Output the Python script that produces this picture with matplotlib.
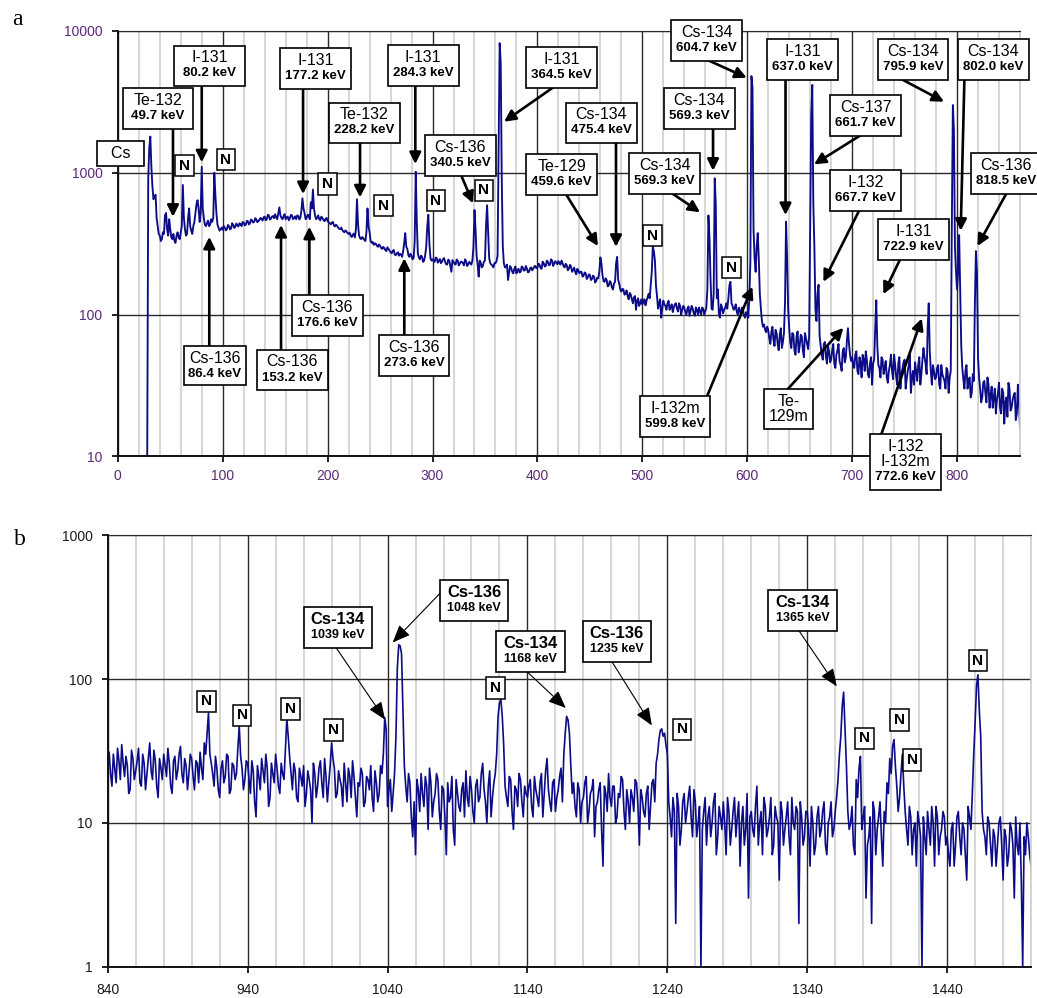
import numpy as np
import matplotlib
matplotlib.use("Agg")
import matplotlib.pyplot as plt
from matplotlib.ticker import FixedLocator, FuncFormatter, NullLocator
from matplotlib.offsetbox import AnnotationBbox, TextArea, VPacker, DrawingArea

plt.rcParams['font.family'] = ['Liberation Sans', 'DejaVu Sans']

# ---- spectrum a : counts per 1 keV channel ----
# even channels
counts_a_028 = [8, 1500, 1100, 650, 700, 420, 360, 340, 370, 520, 360, 400,
                340, 330, 360, 350, 380, 820, 400, 370, 560, 390, 420, 520,
                640, 450, 1100, 480, 420, 460, 430, 450, 1000, 520, 410, 400]
counts_a_100 = [395, 410, 400, 420, 405, 430, 415, 425, 440, 420,
                445, 430, 455, 440, 460, 450, 470, 455, 480, 460,
                490, 470, 500, 475, 495, 510, 470, 570, 480, 495,
                470, 490, 475, 500, 480, 470, 495, 480, 660, 520,
                480, 500, 620, 760, 500, 480, 470, 490, 465, 470]
counts_a_200 = [455, 440, 445, 425, 430, 410, 400, 395, 380, 385,
                370, 360, 365, 350, 650, 360, 340, 345, 330, 560,
                380, 320, 310, 315, 300, 305, 290, 295, 280, 290,
                275, 280, 265, 270, 260, 265, 280, 375, 290, 255,
                260, 250, 1015, 270, 245, 255, 240, 300, 505, 250]
counts_a_300 = [245, 235, 250, 240, 230, 245, 235, 225, 240, 200,
                235, 225, 240, 228, 235, 222, 238, 225, 230, 240,
                546, 260, 185, 232, 220, 240, 590, 250, 225, 215,
                230, 260, 8200, 900, 230, 215, 175, 220, 200, 210,
                195, 210, 200, 215, 205, 210, 200, 215, 210, 220]
counts_a_400 = [215, 225, 210, 230, 220, 235, 225, 240, 228, 232,
                238, 225, 230, 215, 222, 210, 218, 205, 200, 210,
                195, 200, 188, 195, 182, 190, 178, 185, 172, 180,
                253, 190, 170, 175, 160, 168, 150, 170, 255, 165,
                145, 150, 140, 135, 142, 128, 132, 108, 130, 120]
counts_a_500 = [118, 128, 125, 140, 160, 300, 240, 135, 120, 95,
                125, 115, 120, 108, 118, 112, 120, 105, 115, 108,
                112, 100, 114, 106, 110, 98, 108, 112, 100, 110,
                105, 150, 350, 110, 140, 600, 150, 95, 112, 108,
                120, 130, 170, 115, 110, 104, 112, 100, 108, 95]
counts_a_600 = [100, 130, 4800, 400, 200, 375, 140, 90, 85, 75,
                78, 62, 82, 60, 74, 56, 80, 64, 120, 250,
                80, 58, 72, 52, 76, 60, 70, 50, 68, 57,
                400, 4160, 300, 90, 162, 60, 48, 64, 45, 55,
                48, 62, 42, 56, 47, 40, 58, 50, 80, 52]
counts_a_700 = [50, 42, 55, 38, 46, 52, 40, 48, 36, 50,
                45, 80, 60, 42, 50, 38, 47, 33, 44, 40,
                52, 36, 45, 30, 42, 48, 35, 44, 28, 40,
                46, 34, 50, 38, 58, 45, 80, 55, 32, 40,
                36, 44, 30, 38, 34, 42, 28, 40, 3000, 300]
counts_a_800 = [150, 363, 60, 35, 40, 30, 36, 28, 34, 280,
                50, 30, 26, 34, 24, 32, 27, 22, 30, 25,
                33, 20, 28, 24, 19, 30, 22, 27, 18, 32,
                16]
# odd channels
counts_a_029 = [900, 1800, 800, 680, 480, 370, 330, 380, 500, 400,
                470, 350, 370, 320, 380, 340, 420, 480, 360, 480,
                420, 370, 450, 600, 560, 520, 560, 430, 440, 420,
                470, 480, 700, 430, 390, 410]
counts_a_101 = [420, 392, 428, 398, 440, 408, 438, 418, 432, 450,
                425, 458, 432, 468, 445, 478, 448, 465, 472, 485,
                462, 505, 468, 490, 478, 485, 520, 500, 470, 510,
                485, 462, 505, 470, 492, 500, 468, 540, 560, 470,
                505, 470, 560, 560, 470, 500, 462, 480, 455, 480]
counts_a_201 = [448, 432, 450, 418, 422, 402, 410, 385, 392, 375,
                378, 352, 372, 400, 430, 345, 352, 335, 380, 420,
                330, 325, 318, 305, 312, 295, 300, 285, 298, 282,
                270, 285, 262, 275, 268, 255, 320, 300, 262, 268,
                245, 330, 450, 252, 260, 235, 262, 420, 320, 240]
counts_a_301 = [238, 252, 232, 246, 236, 250, 226, 244, 218, 242,
                228, 244, 222, 236, 230, 245, 220, 235, 225, 300,
                400, 225, 240, 215, 236, 420, 380, 230, 222, 230,
                238, 1500, 6000, 300, 215, 225, 198, 212, 195, 218,
                205, 198, 218, 204, 220, 198, 212, 205, 218, 212]
counts_a_401 = [228, 212, 236, 218, 240, 222, 245, 220, 238, 226,
                230, 240, 218, 228, 205, 224, 200, 214, 192, 205,
                200, 185, 198, 178, 192, 175, 188, 168, 182, 200,
                230, 172, 180, 158, 172, 155, 165, 230, 175, 150,
                152, 138, 148, 128, 138, 120, 135, 125, 115, 128]
counts_a_501 = [122, 116, 132, 130, 200, 280, 160, 110, 128, 110,
                118, 108, 125, 112, 104, 118, 110, 120, 100, 115,
                104, 110, 98, 115, 102, 112, 100, 105, 112, 100,
                112, 500, 180, 108, 913, 130, 100, 118, 102, 112,
                110, 160, 120, 108, 118, 100, 106, 112, 98, 104]
counts_a_601 = [95, 240, 4000, 250, 300, 250, 110, 82, 78, 82,
                68, 75, 66, 78, 62, 72, 58, 74, 451, 110,
                64, 74, 56, 70, 54, 72, 56, 74, 62, 70,
                2500, 600, 110, 140, 70, 52, 62, 50, 60, 46,
                56, 45, 52, 62, 44, 55, 46, 65, 62, 47]
counts_a_701 = [44, 52, 40, 50, 36, 48, 55, 38, 45, 32,
                48, 126, 44, 36, 48, 42, 36, 40, 52, 35,
                44, 32, 50, 38, 46, 30, 40, 52, 36, 32,
                40, 44, 32, 48, 50, 38, 120, 40, 44, 35,
                42, 32, 44, 36, 30, 40, 36, 400, 2000, 200]
counts_a_801 = [200, 150, 42, 30, 44, 34, 26, 38, 120, 200,
                36, 24, 33, 28, 36, 22, 31, 26, 20, 28,
                22, 30, 17, 26, 33, 21, 25, 28, 20, 24]

# ---- spectrum b ----
counts_b_840 = [26, 22, 30, 19, 27, 35, 21, 25, 17, 28,
                23, 33, 18, 26, 22, 36, 20, 27, 15, 24,
                30, 21, 26, 16, 29, 23, 34, 19, 25, 22,
                28, 17, 26, 31, 20, 30, 58, 26, 18, 24,
                15, 27, 21, 29, 17, 25, 22, 47, 24, 20]
counts_b_940 = [26, 16, 23, 11, 21, 28, 19, 24, 15, 22,
                30, 18, 26, 20, 53, 29, 17, 23, 14, 21,
                25, 16, 20, 10, 22, 18, 27, 15, 21, 19,
                36, 24, 16, 20, 13, 19, 24, 15, 21, 11,
                18, 22, 14, 20, 25, 12, 19, 16, 22, 54]
counts_b_1040 = [13, 20, 16, 40, 173, 150, 25, 14, 19, 8,
                 6, 17, 22, 13, 18, 24, 11, 16, 20, 9,
                 17, 6, 14, 21, 7, 16, 12, 19, 23, 13,
                 17, 10, 20, 15, 26, 14, 18, 11, 19, 30,
                 68, 55, 18, 13, 20, 9, 17, 22, 14, 18]
counts_b_1140 = [15, 20, 11, 17, 13, 22, 16, 28, 14, 19,
                 12, 17, 24, 30, 55, 42, 16, 13, 19, 10,
                 15, 21, 12, 17, 8, 14, 19, 5, 16, 22,
                 13, 18, 11, 15, 20, 9, 14, 17, 12, 19,
                 7, 15, 11, 18, 13, 20, 26, 38, 45, 42]
counts_b_1240 = [30, 11, 15, 2, 13, 9, 16, 12, 18, 8,
                 14, 10, 1, 12, 7, 13, 10, 16, 8, 11,
                 14, 6, 12, 9, 15, 11, 5, 13, 9, 3,
                 12, 8, 18, 10, 6, 13, 9, 15, 7, 11,
                 4, 12, 9, 14, 6, 10, 13, 2, 11, 8]
counts_b_1340 = [12, 5, 10, 7, 13, 9, 14, 6, 11, 8,
                 12, 20, 40, 81, 25, 9, 13, 6, 15, 29,
                 11, 3, 8, 2, 12, 9, 14, 5, 10, 16,
                 22, 38, 18, 15, 30, 12, 7, 11, 9, 5,
                 10, 1, 8, 12, 7, 10, 13, 6, 9, 11]
counts_b_1440 = [8, 5, 10, 7, 12, 6, 9, 4, 11, 16,
                 50, 107, 40, 9, 6, 10, 5, 8, 7, 11,
                 4, 8, 6, 9, 3, 7, 10, 1, 6, 8,
                 5]
counts_b_841 = [31, 18, 24, 33, 20, 26, 29, 16, 32, 20,
                27, 19, 30, 17, 28, 23, 32, 18, 28, 20,
                25, 33, 18, 27, 20, 30, 22, 28, 17, 30,
                21, 27, 19, 24, 36, 42, 30, 22, 29, 17,
                24, 19, 30, 16, 26, 20, 33, 29, 17, 27]
counts_b_941 = [20, 27, 14, 25, 17, 23, 30, 13, 26, 19,
                24, 16, 22, 33, 40, 22, 26, 15, 24, 18,
                13, 23, 17, 26, 15, 24, 19, 28, 14, 25,
                28, 15, 23, 18, 26, 14, 21, 27, 15, 19,
                24, 13, 21, 17, 15, 23, 14, 25, 30, 45]
counts_b_1041 = [17, 12, 22, 120, 170, 60, 18, 22, 11, 14,
                 20, 12, 16, 21, 9, 19, 14, 22, 12, 18,
                 11, 19, 15, 9, 20, 13, 17, 11, 15, 21,
                 12, 18, 14, 22, 17, 10, 23, 15, 22, 55,
                 72, 35, 15, 21, 12, 18, 13, 20, 11, 16]
counts_b_1141 = [18, 13, 21, 15, 19, 11, 23, 17, 12, 20,
                 15, 21, 14, 42, 52, 25, 19, 11, 17, 14,
                 19, 10, 16, 20, 13, 17, 9, 18, 12, 15,
                 18, 10, 16, 21, 12, 17, 10, 15, 20, 13,
                 17, 12, 16, 9, 19, 14, 30, 44, 40, 35]
counts_b_1241 = [14, 8, 12, 16, 7, 14, 10, 15, 11, 17,
                 8, 13, 9, 15, 11, 8, 14, 6, 13, 9,
                 10, 15, 7, 12, 8, 14, 10, 7, 16, 11,
                 9, 13, 7, 12, 15, 8, 11, 6, 13, 10,
                 14, 7, 11, 8, 15, 9, 12, 14, 7, 12]
counts_b_1341 = [9, 13, 6, 11, 8, 12, 7, 10, 14, 9,
                 15, 30, 65, 45, 12, 10, 7, 20, 24, 9,
                 13, 7, 11, 14, 6, 11, 8, 12, 19, 28,
                 34, 25, 12, 22, 18, 9, 13, 6, 10, 12,
                 8, 11, 6, 9, 13, 5, 11, 8, 12, 7]
counts_b_1441 = [6, 9, 5, 11, 8, 10, 6, 13, 9, 30,
                 90, 60, 12, 8, 11, 7, 9, 5, 10, 7,
                 9, 5, 10, 7, 11, 6, 4, 8, 10, 6]

# ---- labels: (name, energy, box x, box y, arrow (x0, y0, x1, y1)) ----
labels_a = [
    ("  Cs  ", "", 2.6, 1366, None),
    ("Te-132", "49.7 keV", 38.3, 2838, (52.6, 2069, 52.6, 489)),
    ("I-131", "80.2 keV", 87.6, 5662, (80.0, 4140, 80.0, 1184)),
    ("I-131", "177.2 keV", 188.6, 5437, (176.6, 3981, 176.6, 707)),
    ("Te-132", "228.2 keV", 235.0, 2243, (230.9, 1629, 230.9, 670)),
    ("I-131", "284.3 keV", 291.1, 5680, (283.6, 4093, 283.6, 1152)),
    ("Cs-136", "340.5 keV", 326.4, 1327, (327.2, 964, 338.6, 608)),
    ("I-131", "364.5 keV", 423.2, 5530, (415.2, 4005, 368.2, 2290)),
    ("Cs-134", "475.4 keV", 460.8, 2243, (474.9, 1629, 474.9, 300)),
    ("Te-129", "459.6 keV", 423.2, 974, (427.3, 704, 457.7, 304)),
    ("Cs-134", "569.3 keV", 554.2, 2830, (567.4, 2057, 567.4, 1033)),
    ("Cs-134", "569.3 keV", 521.3, 984, (528.3, 716, 555.0, 526)),
    ("Cs-134", "604.7 keV", 561.4, 8590, (562.0, 6243, 599.5, 4680)),
    ("I-131", "637.0 keV", 652.5, 6310, (636.5, 4560, 636.5, 503)),
    ("Cs-137", "661.7 keV", 713.0, 2546, (706.9, 1815, 663.7, 1146)),
    ("I-132", "667.7 keV", 713.0, 751, (706.9, 545, 672.6, 170)),
    ("I-131", "722.9 keV", 758.5, 337, (745.7, 245, 729.7, 139)),
    ("Cs-134", "795.9 keV", 758.0, 6310, (747.3, 4560, 787.6, 3170)),
    ("Cs-134", "802.0 keV", 834.6, 6310, (807.0, 4560, 803.5, 390)),
    ("Cs-136", "818.5 keV", 846.7, 984, (847.4, 722, 819.4, 304)),
    ("Cs-136", "86.4 keV", 92.7, 43.6, (87.2, 60.1, 87.2, 353)),
    ("Cs-136", "153.2 keV", 166.4, 40.6, (155.6, 56.7, 155.6, 428)),
    ("Cs-136", "176.6 keV", 199.6, 98.7, (182.6, 136.4, 182.6, 416)),
    ("Cs-136", "273.6 keV", 282.4, 51.7, (273.1, 71.2, 273.1, 249)),
    ("I-132m", "599.8 keV", 531.2, 19.1, (561.4, 26.2, 604.9, 157)),
    ("Te-\n129m", "", 639.2, 21.5, (639.2, 30.1, 691.6, 80.5)),
    ("I-132\nI-132m", "772.6 keV", 750.9, 9.1, (729.2, 15.3, 766.4, 93.8)),
]
labels_b = [
    ("Cs-136", "1048 keV", 1102.0, 352.5, (1078.7, 406, 1043.7, 179.6)),
    ("Cs-134", "1039 keV", 1004.5, 228, (1001.3, 176, 1038.2, 52.2)),
    ("Cs-134", "1168 keV", 1142.2, 155.5, (1139.5, 113, 1167.4, 62.9)),
    ("Cs-136", "1235 keV", 1203.8, 181.6, (1200.3, 132.5, 1228.9, 47.6)),
    ("Cs-134", "1365 keV", 1336.6, 300.5, (1333.6, 220, 1361.1, 88.9)),
]
# natural background lines marked "N"
n_marks_a = [(63.5, 1124), (103.1, 1239), (199.6, 835), (253.3, 587),
             (303.2, 636), (348.9, 751), (509.4, 360), (585.0, 214)]
n_marks_b = [(910.8, 69.9), (936.0, 55.8), (970.7, 62), (1001.5, 44.3),
             (1117.2, 86.3), (1250.5, 44.7), (1381.1, 38.6), (1405.8, 51.7),
             (1415.0, 27.4), (1462.0, 134.4)]

LINE = '#0c0c88'
GRID_MAJ = '#2a2a2a'
GRID_MIN = '#cfcfcf'


def spectrum(chunks):
    xs, ys = [], []
    for start, vals in chunks:
        xs.append(start + 2 * np.arange(len(vals)))
        ys.append(np.asarray(vals, dtype=float))
    x = np.concatenate(xs)
    y = np.concatenate(ys)
    order = np.argsort(x)
    return x[order], y[order]


def style_axes(ax, xlim, ylim, major, minor, tick_color, xpad):
    ax.set_yscale('log')
    ax.set_xlim(xlim)
    ax.set_ylim(ylim)
    ax.xaxis.set_major_locator(FixedLocator(major))
    ax.xaxis.set_minor_locator(FixedLocator(minor))
    ax.yaxis.set_minor_locator(NullLocator())
    fmt = FuncFormatter(lambda v, p: f'{v:.0f}')
    ax.xaxis.set_major_formatter(fmt)
    ax.yaxis.set_major_formatter(fmt)
    ax.grid(which='minor', axis='x', color=GRID_MIN, lw=1.2)
    ax.grid(which='major', axis='both', color=GRID_MAJ, lw=1.0)
    ax.set_axisbelow(True)
    ax.spines['top'].set_color(GRID_MAJ)
    ax.spines['right'].set_color(GRID_MIN)
    ax.spines['right'].set_linewidth(1.2)
    for s in ('left', 'bottom'):
        ax.spines[s].set_linewidth(1.4)
        ax.spines[s].set_color('#111111')
    ax.tick_params(which='major', direction='out', length=4, width=1.3,
                   labelsize=10, labelcolor=tick_color, color='#111111')
    ax.tick_params(axis='y', pad=7)
    ax.tick_params(axis='x', pad=xpad)
    ax.tick_params(which='minor', length=0)


def add_box(ax, name, energy, x, y, name_kw, energy_kw, min_w=44):
    kids = [TextArea(name, textprops=dict(multialignment='center',
                                          linespacing=1.05, **name_kw))]
    if energy:
        kids.append(TextArea(energy, textprops=energy_kw))
    if min_w:
        kids.append(DrawingArea(min_w, 0))
    pack = VPacker(children=kids, align='center', pad=0, sep=1.5)
    ab = AnnotationBbox(pack, (x, y), xycoords='data', box_alignment=(0.5, 0.5),
                        frameon=True, pad=0.35, annotation_clip=False,
                        bboxprops=dict(ec='black', fc='white', lw=1.2))
    ab.set_zorder(5)
    ax.add_artist(ab)


def add_arrow(ax, arrow, style, lw, scale, ext=8):
    x0, y0, x1, y1 = arrow
    p0 = ax.transData.transform((x0, y0))
    p1 = ax.transData.transform((x1, y1))
    d = (p0 - p1) / np.hypot(*(p0 - p1))
    s = ax.transData.inverted().transform(p0 + d * ext)
    ax.annotate('', xy=(x1, y1), xytext=tuple(s), xycoords='data',
                textcoords='data', annotation_clip=False, zorder=4,
                arrowprops=dict(arrowstyle=style, color='black', lw=lw,
                                mutation_scale=scale, shrinkA=0, shrinkB=0))


def add_n(ax, x, y):
    ax.text(x, y, 'N', fontsize=11, fontweight='bold', ha='center', va='center',
            zorder=5, clip_on=False,
            bbox=dict(boxstyle='square,pad=0.25', fc='white', ec='black', lw=1.1))


fig = plt.figure(figsize=(10.37, 9.98), dpi=100)
ax_a = fig.add_axes([0.1136, 0.5428, 0.8700, 0.4262])
ax_b = fig.add_axes([0.1039, 0.0314, 0.8904, 0.4323])

# panel a
xa, ya = spectrum([(28, counts_a_028), (100, counts_a_100), (200, counts_a_200),
                   (300, counts_a_300), (400, counts_a_400), (500, counts_a_500),
                   (600, counts_a_600), (700, counts_a_700), (800, counts_a_800),
                   (29, counts_a_029), (101, counts_a_101), (201, counts_a_201),
                   (301, counts_a_301), (401, counts_a_401), (501, counts_a_501),
                   (601, counts_a_601), (701, counts_a_701), (801, counts_a_801)])
ax_a.plot(xa, ya, color=LINE, lw=1.35, zorder=2)
style_axes(ax_a, (0, 860), (10, 10000), np.arange(0, 801, 100),
           np.arange(0, 861, 20), '#5a2a78', 5)

for name, energy, bx, by, arrow in labels_a:
    if arrow is not None:
        add_arrow(ax_a, arrow, '-|>', 1.9, 17)
    width = 0 if energy in ("", "86.4 keV") else 44
    add_box(ax_a, name, energy, bx, by,
            dict(fontsize=11.5), dict(fontsize=9.5, fontweight='bold'), width)
for x, y in n_marks_a:
    add_n(ax_a, x, y)

# panel b
xb, yb = spectrum([(840, counts_b_840), (940, counts_b_940), (1040, counts_b_1040),
                   (1140, counts_b_1140), (1240, counts_b_1240),
                   (1340, counts_b_1340), (1440, counts_b_1440),
                   (841, counts_b_841), (941, counts_b_941), (1041, counts_b_1041),
                   (1141, counts_b_1141), (1241, counts_b_1241),
                   (1341, counts_b_1341), (1441, counts_b_1441)])
ax_b.plot(xb, yb, color=LINE, lw=1.2, zorder=2)
style_axes(ax_b, (840, 1500), (1, 1000), np.arange(840, 1501, 100),
           np.arange(840, 1501, 20), '#1a1a1a', 8)

for name, energy, bx, by, arrow in labels_b:
    add_arrow(ax_b, arrow, '-|>,head_length=0.6,head_width=0.25', 0.8, 18)
    add_box(ax_b, name, energy, bx, by,
            dict(fontsize=12, fontweight='bold'), dict(fontsize=9, fontweight='bold'), 42)
for x, y in n_marks_b:
    add_n(ax_b, x, y)

fig.text(0.0165, 0.98, 'a', family=['Liberation Serif', 'DejaVu Serif'],
         fontsize=17, ha='center', va='center')
fig.text(0.019, 0.459, 'b', family=['Liberation Serif', 'DejaVu Serif'],
         fontsize=17, ha='center', va='center')

fig.savefig('out.png', dpi=100)
